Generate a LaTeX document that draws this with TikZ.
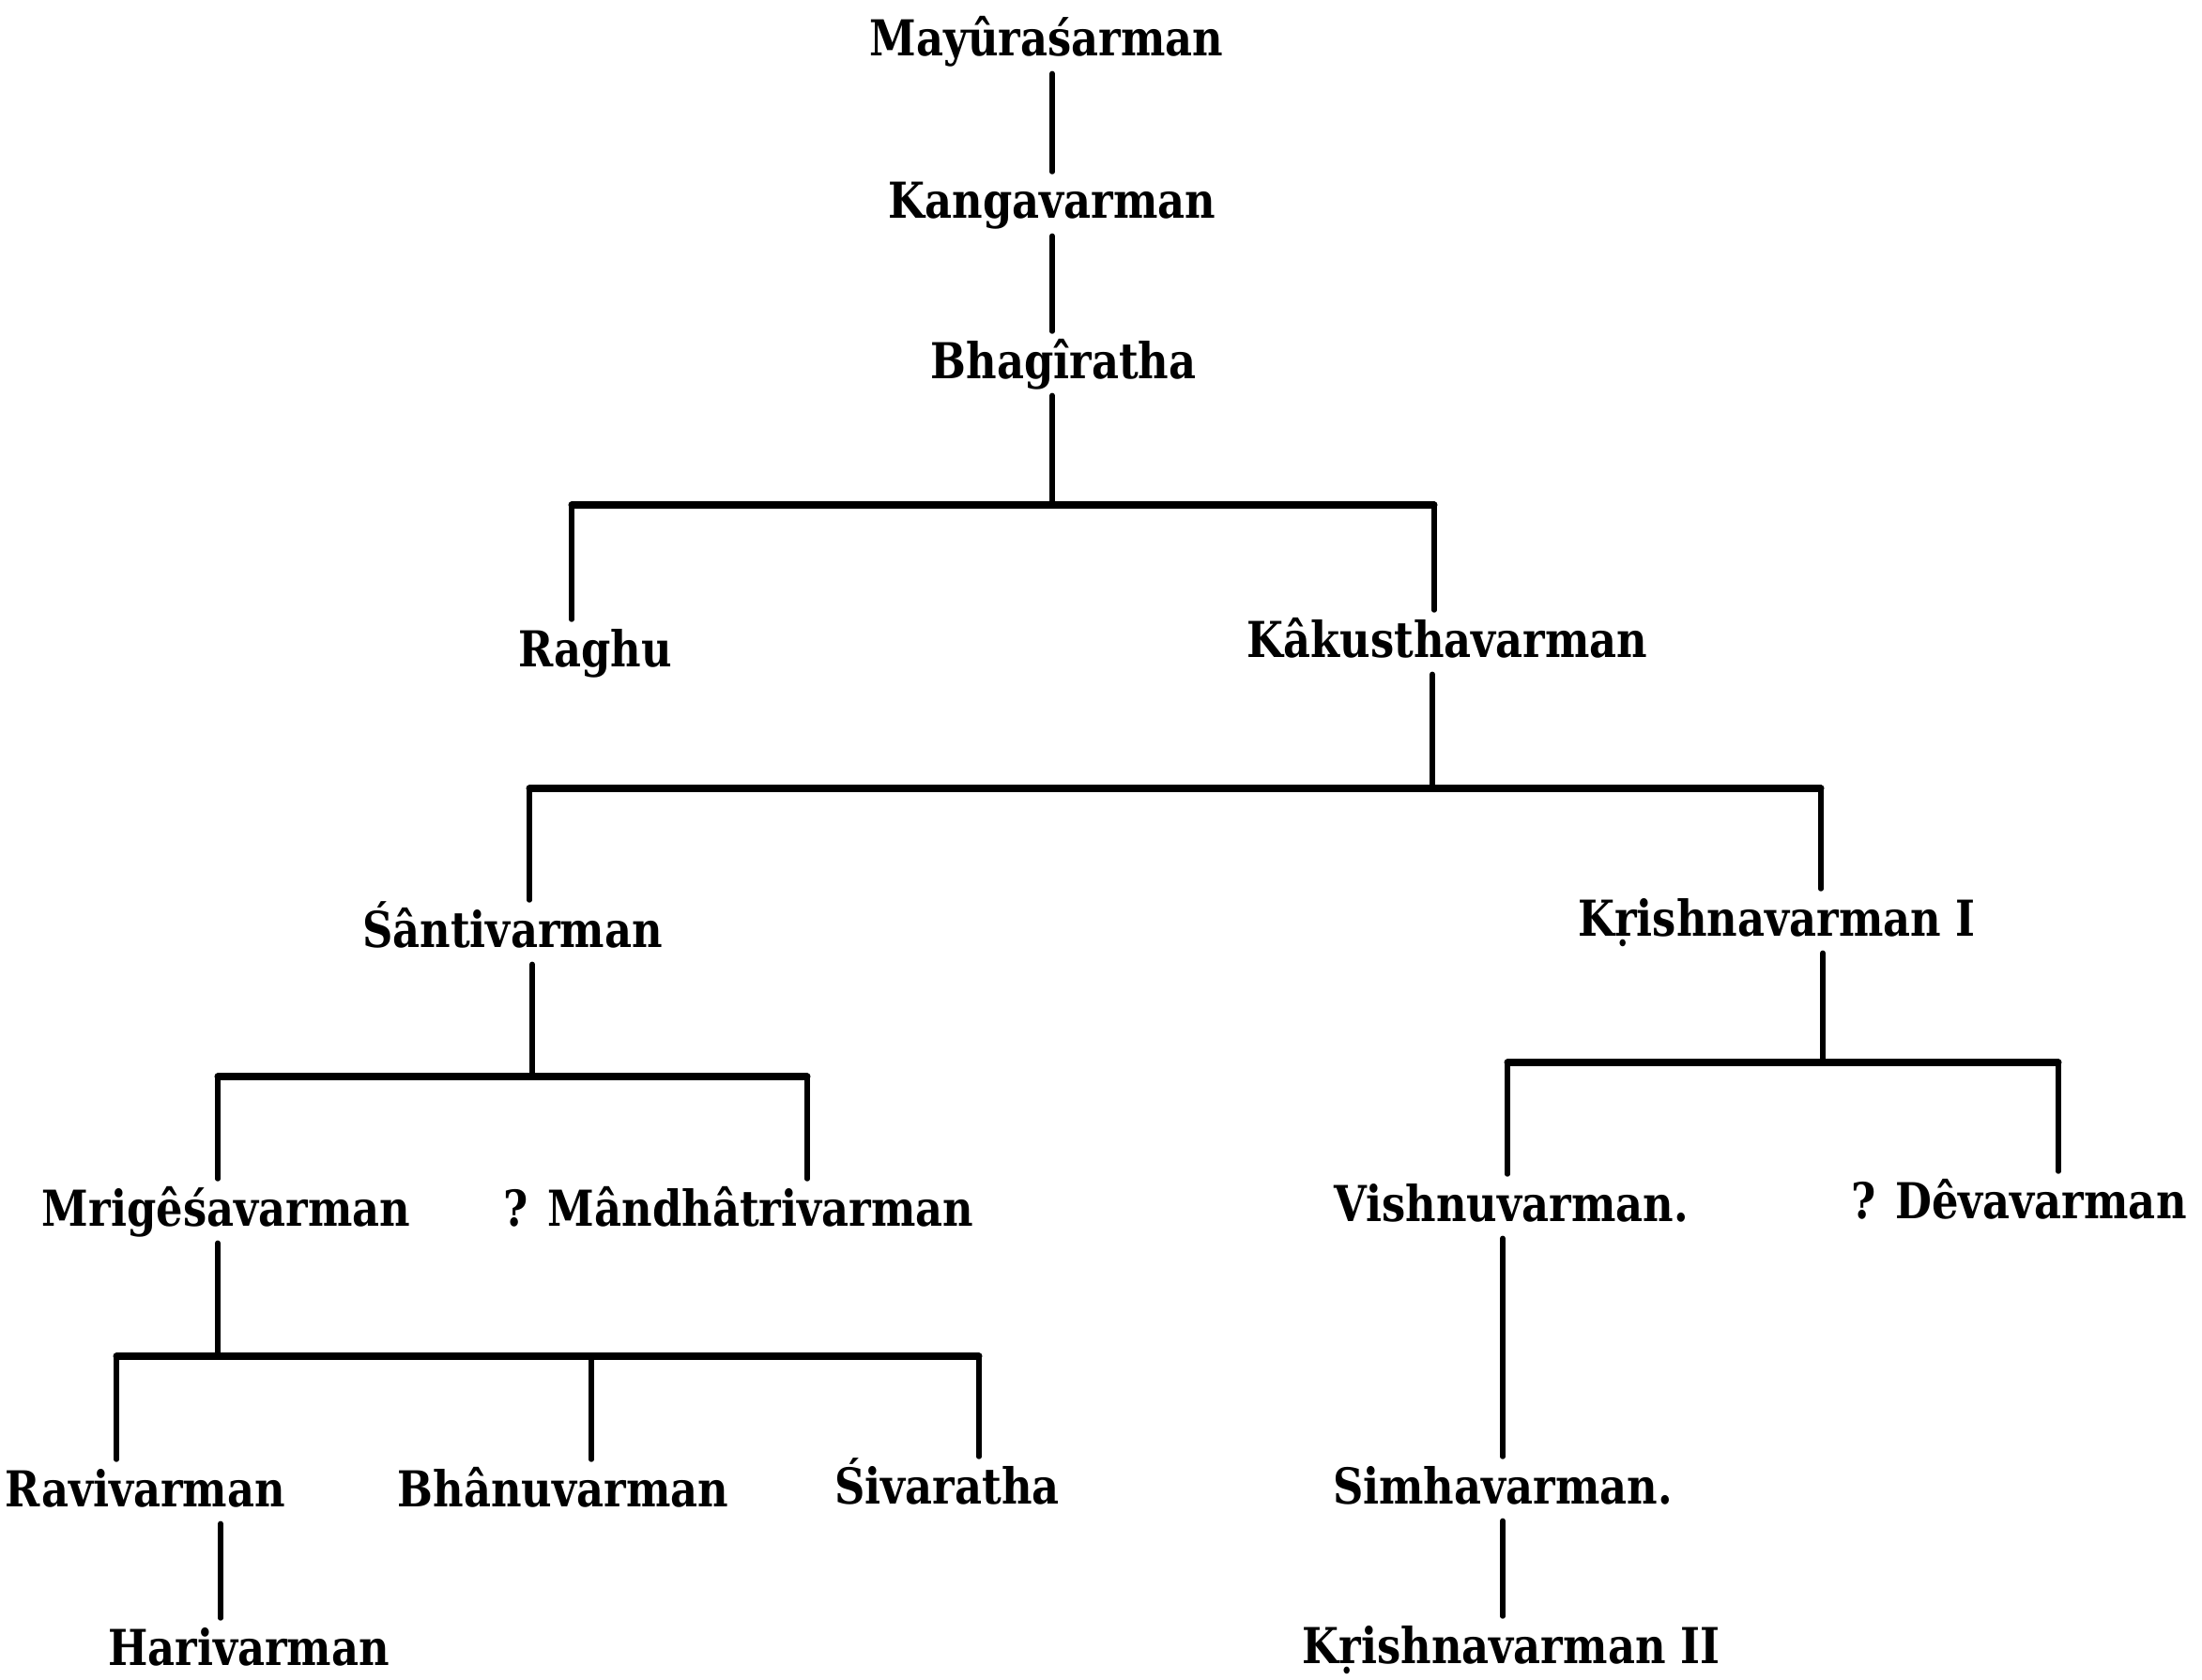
\documentclass[tikz,border=0pt]{standalone}
\usepackage{fontspec}
\newfontfamily\treefont{DejaVu Serif}[FakeStretch=0.85]
\usepackage{tkz-euclide}
\tikzset{
  king/.style={font={\treefont\bfseries\fontsize{15}{18}\selectfont},anchor=base,
    text height=11pt,text depth=2pt,inner xsep=2pt,inner ysep=3pt},
  kinline/.style={line width=1.5pt,line cap=round},
  kinbar/.style={line width=2pt,line cap=round}
}

\begin{document}
\begin{tikzpicture}
\useasboundingbox (0,0) rectangle (23.46,-17.90);

% baselines of the names
\tkzDefPoints{11.15/-0.60/pMay,11.21/-2.33/pKang,11.33/-4.03/pBhag,
  6.34/-7.10/pRaghu,15.42/-7.00/pKaku,
  5.46/-10.09/pSanti,18.93/-9.97/pKrishI,
  2.41/-13.06/pMrig,7.87/-13.06/pMand,16.10/-13.01/pVish,21.51/-12.98/pDeva,
  1.55/-16.05/pRavi,6.00/-16.05/pBhanu,10.09/-16.02/pSiva,16.01/-16.02/pSimha,
  2.65/-17.74/pHari,16.10/-17.72/pKrishII}

% bars of the families
\tkzDefPoints{11.21/-5.38/dB,6.09/-5.38/lB,15.28/-5.38/rB,
  15.26/-8.40/dK,5.64/-8.40/lK,19.40/-8.40/rK,
  5.67/-11.47/dS,2.32/-11.47/lS,8.60/-11.47/rS,
  19.42/-11.32/dKr,16.06/-11.32/lKr,21.93/-11.32/rKr,
  2.32/-14.45/dM,1.24/-14.45/lM,6.30/-14.45/mM,10.43/-14.45/rM,
  2.35/0/vR}

\node[king] (may) at (pMay) {Mayûraśarman};
\node[king] (kang) at (pKang) {Kangavarman};
\node[king] (bhag) at (pBhag) {Bhagîratha};
\node[king] (raghu) at (pRaghu) {Raghu};
\node[king] (kaku) at (pKaku) {Kâkusthavarman};
\node[king] (santi) at (pSanti) {Śântivarman};
\node[king] (krishI) at (pKrishI) {Kṛishnavarman I};
\node[king] (mrig) at (pMrig) {Mrigêśavarman};
\node[king] (mand) at (pMand) {? Mândhâtrivarman};
\node[king] (vish) at (pVish) {Vishnuvarman.};
\node[king] (deva) at (pDeva) {? Dêvavarman};
\node[king] (ravi) at (pRavi) {Ravivarman};
\node[king] (bhanu) at (pBhanu) {Bhânuvarman};
\node[king] (siva) at (pSiva) {Śivaratha};
\node[king] (simha) at (pSimha) {Simhavarman.};
\node[king] (hari) at (pHari) {Harivarman};
\node[king] (krishII) at (pKrishII) {Kṛishnavarman II};

% single lines
\draw[kinline] (kang.north) -- (kang.north |- may.south);
\draw[kinline] (kang.south) -- (kang.south |- bhag.north);
\draw[kinline] (vR |- ravi.south) -- (vR |- hari.north);
\draw[kinline] (simha.north) -- (simha.north |- vish.south);
\draw[kinline] (simha.south) -- (simha.south |- krishII.north);

% Bhagiratha
\draw[kinline] (dB |- bhag.south) -- (dB);
\draw[kinbar] (lB) -- (rB);
\draw[kinline] (lB) -- (lB |- raghu.north);
\draw[kinline] (rB) -- (rB |- kaku.north);

% Kakusthavarman
\draw[kinline] (dK |- kaku.south) -- (dK);
\draw[kinbar] (lK) -- (rK);
\draw[kinline] (lK) -- (lK |- santi.north);
\draw[kinline] (rK) -- (rK |- krishI.north);

% Santivarman
\draw[kinline] (dS |- santi.south) -- (dS);
\draw[kinbar] (lS) -- (rS);
\draw[kinline] (lS) -- (lS |- mrig.north);
\draw[kinline] (rS) -- (rS |- mand.north);

% Krishnavarman I
\draw[kinline] (dKr |- krishI.south) -- (dKr);
\draw[kinbar] (lKr) -- (rKr);
\draw[kinline] (lKr) -- (lKr |- vish.north);
\draw[kinline] (rKr) -- (rKr |- deva.north);

% Mrigesavarman
\draw[kinline] (dM |- mrig.south) -- (dM);
\draw[kinbar] (lM) -- (rM);
\draw[kinline] (lM) -- (lM |- ravi.north);
\draw[kinline] (mM) -- (mM |- bhanu.north);
\draw[kinline] (rM) -- (rM |- siva.north);

\end{tikzpicture}
\end{document}
